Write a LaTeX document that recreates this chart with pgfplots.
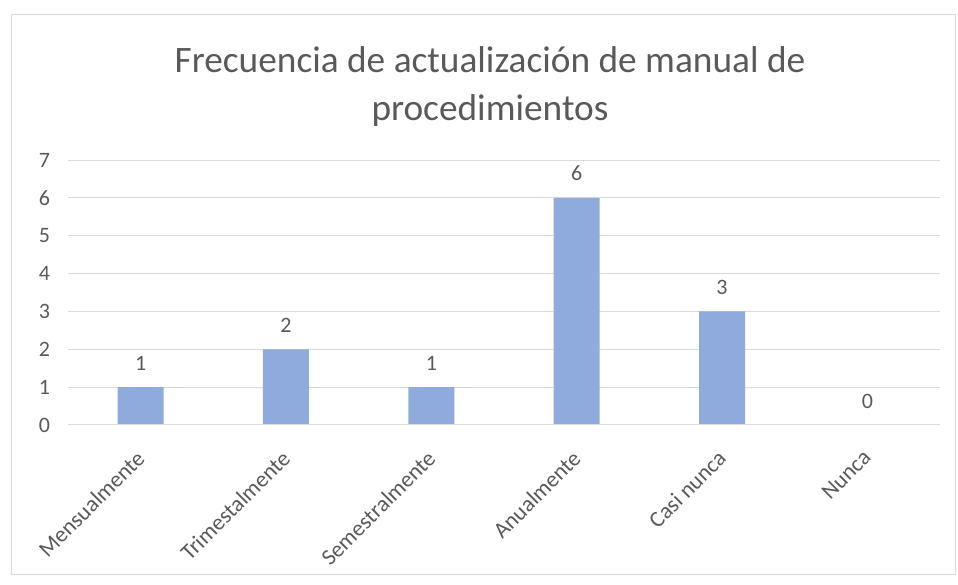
\documentclass[border=0pt]{standalone}
\usepackage{pgfplots}
\pgfplotsset{compat=1.18}
\usepackage{fontspec}
\setmainfont{Carlito}
\definecolor{txt}{HTML}{595959}
\definecolor{grid}{HTML}{D9D9D9}
\definecolor{bar}{HTML}{8FAADC}
\begin{document}
\begin{tikzpicture}
\useasboundingbox (-51pt,-120pt) rectangle (667.5pt,318.75pt);
\draw[grid, line width=0.75pt] (-42pt,-112.5pt) rectangle (665.25pt,307.5pt);
\node[txt, font=\fontsize{28}{36}\selectfont, align=center] at (316.5pt,254pt) {Frecuencia de actualización de manual de\\procedimientos};
\begin{axis}[
  at={(0pt,0pt)}, anchor=south west,
  scale only axis,
  width=654pt, height=198.75pt,
  ymin=0, ymax=7,
  xmin=-0.5, xmax=5.5,
  ytick={0,...,7},
  xtick={0,...,5},
  xticklabels={Mensualmente,Trimestalmente,Semestralmente,Anualmente,Casi nunca,Nunca},
  x tick label style={rotate=45, anchor=north east, font=\fontsize{17}{19}\selectfont, text=txt, inner sep=1pt, xshift=-14.5pt, yshift=-8.5pt},
  y tick label style={font=\fontsize{16.5}{19}\selectfont, text=txt, xshift=-10pt},
  /pgf/number format/assume math mode=true,
  major tick length=0pt,
  ymajorgrids, grid style={draw=grid, line width=0.75pt},
  axis line style={draw=none},
  tick style={draw=none},
  ybar, bar width=34.5pt,
  nodes near coords,
  nodes near coords style={font=\fontsize{16.5}{19}\selectfont, text=txt, yshift=9pt},
  clip=false,
]
\addplot[fill=bar, draw=none] coordinates {(0,1) (1,2) (2,1) (3,6) (4,3) (5,0)};
\end{axis}
\draw[grid, line width=0.75pt] (0pt,0pt) -- (654pt,0pt);
\end{tikzpicture}
\end{document}
